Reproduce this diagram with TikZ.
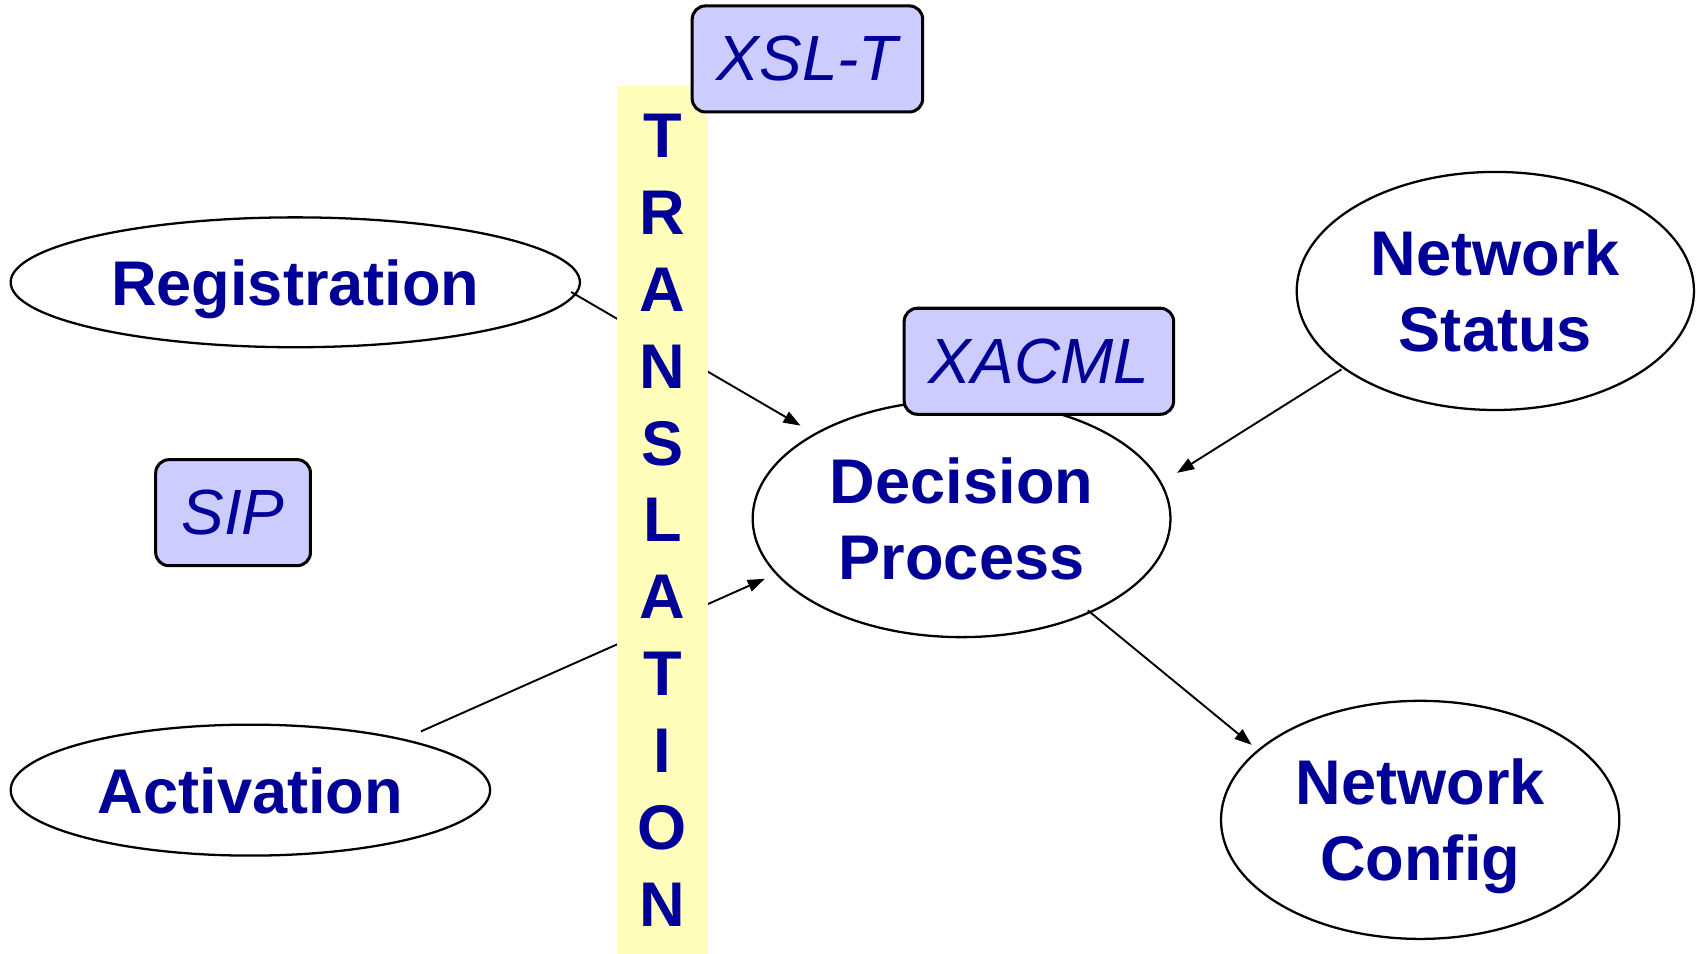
\documentclass[tikz,border=0pt]{standalone}
\usepackage{fontspec}
\setmainfont{Liberation Sans}
\usetikzlibrary{arrows.meta,shapes.geometric,calc}
\definecolor{ink}{HTML}{000099}
\definecolor{boxfill}{HTML}{CCCCFF}
\definecolor{bandfill}{HTML}{FFFFBB}

\begin{document}
\begin{tikzpicture}[x=0.01cm,y=-0.01cm,
  every node/.style={inner sep=0pt,outer sep=0pt},
  stage/.style={ellipse,draw,line width=0.6pt,text=ink,text depth=0pt,
    font=\fontsize{16.6}{19.9}\selectfont\bfseries,align=center},
  tag/.style={rectangle,rounded corners=3.5pt,draw,line width=0.8pt,
    fill=boxfill,text=ink,font=\fontsize{16.8}{19.9}\selectfont\itshape,
    minimum height=0.98cm},
  flow/.style={line width=0.5pt,-{Triangle[length=4.5pt,width=3.2pt]}}]
\useasboundingbox (0,0) rectangle (1568,882);

% process stages
\node[stage,minimum width=5.26cm,minimum height=1.2cm] (reg) at (273,261) {Registration};
\node[stage,minimum width=4.43cm,minimum height=1.21cm] (act) at (231.5,730.5) {Activation};
\node[stage,minimum width=3.86cm,minimum height=2.19cm] (dec) at (889,479.5) {Decision\\Process};
\node[stage,minimum width=3.67cm,minimum height=2.2cm] (ns) at (1382.5,269) {Network\\Status};
\node[stage,minimum width=3.68cm,minimum height=2.2cm] (nc) at (1313,758) {Network\\Config};

% flows between stages
\draw[flow] ($(reg)!0.98!(reg.-2)$) -- ($(dec)!1.1!(dec.150.8)$);
\draw[flow] ($(act)!1.145!(act.19.2)$) -- ($(dec)!1.07!(dec.197.7)$);
\draw[flow] ($(ns)!1.017!(ns.207.3)$) -- ($(dec)!1.102!(dec.12.1)$);
\draw[flow] ($(dec)!0.982!(dec.-36.6)$) -- ($(nc)!1.055!(nc.156.1)$);

% translation band, drawn over the flows
\node[rectangle,fill=bandfill,minimum width=0.85cm,minimum height=8.02cm,
  text=ink,font=\fontsize{16.6}{20.2}\selectfont\bfseries,align=center]
  (band) at (612.5,481) {T\\R\\A\\N\\S\\L\\A\\T\\I\\O\\N};

% technology tags
\node[tag,minimum width=2.13cm] (xslt) at (746.5,54.5) {XSL-T};
\node[tag,minimum width=2.49cm] (xacml) at (960.5,334) {XACML};
\node[tag,minimum width=1.43cm] (sip) at (215.5,474) {SIP};
\end{tikzpicture}
\end{document}
